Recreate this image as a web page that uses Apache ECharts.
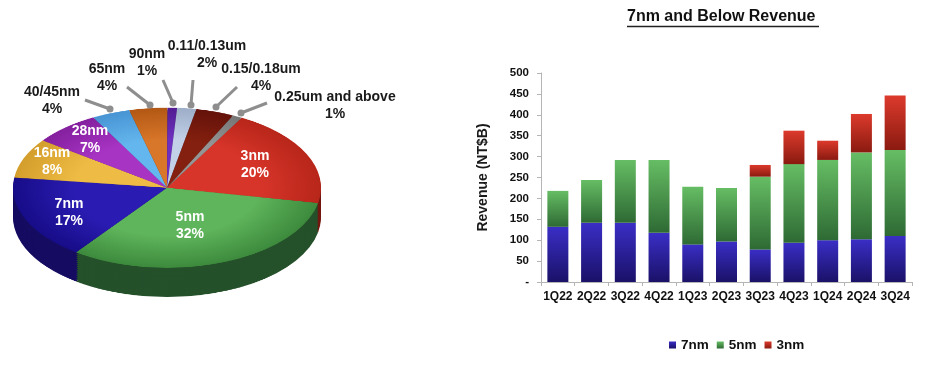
<!DOCTYPE html>
<html>
<head>
<meta charset="utf-8">
<script src="https://cdn.jsdelivr.net/npm/echarts@6/dist/echarts.min.js"></script>
<style>
html,body{margin:0;padding:0;background:#fff;}
#pie{position:absolute;left:0;top:0;width:340px;height:600px;transform:scaleY(0.52);transform-origin:0 0;}
#main{position:absolute;left:0;top:0;width:936px;height:366px;}
</style>
</head>
<body>
<div id="pie"></div>
<div id="main"></div>
<script>
// ---- Pie data (revenue share by technology) ----
const nodes = ['3nm','5nm','7nm','16nm','28nm','40/45nm','65nm','90nm','0.11/0.13um','0.15/0.18um','0.25um and above'];
const shares = [20,32,17,8,7,4,4,1,2,4,1];

// ---- Bar data (NT$B) ----
const quarters = ['1Q22','2Q22','3Q22','4Q22','1Q23','2Q23','3Q23','4Q23','1Q24','2Q24','3Q24'];
const rev7nm = [132,142,142,118,90,97,78,94,100,102,110];
const rev5nm = [86,102,150,174,138,128,174,188,192,208,206];
const rev3nm = [0,0,0,0,0,0,28,80,46,92,130];
const yTickLabels = ['-','50','100','150','200','250','300','350','400','450','500'];

// ---- Styles ----
const FONT = "'Liberation Sans', Arial, sans-serif";
const topIn  = ['#d8352a','#5fb55b','#2a1cb2','#eebc44','#a834c4','#64b6ee','#d8762a','#6e30c0','#c2d0e8','#84200f','#959595'];
const topOut = ['#b8261a','#3d8a3d','#170c88','#d49e2c','#84209e','#4894d4','#b25814','#521c92','#9eaec8','#64120a','#767676'];
const sideCol= ['#741810','#24502a','#150c62','#846418','#541268','#2c6088','#703810','#36125e','#66768c','#440c06','#525252'];

// ---- Pie (drawn in a vertically squashed instance for the tilted look) ----
const pieChart = echarts.init(document.getElementById('pie'), null, {renderer:'canvas'});
const pieSeries = [];
const CX = 167, CY = 361, R = 154, DEPTH = 56;
for (let off = DEPTH; off > 0; off -= 4) {
  pieSeries.push({
    type:'pie', center:[CX, CY + off], radius:R, startAngle:61, clockwise:true,
    silent:true, label:{show:false}, labelLine:{show:false}, emphasis:{disabled:true},
    data: nodes.map((n,i)=>({name:n, value:shares[i], itemStyle:{color:sideCol[i]}}))
  });
}
pieSeries.push({
  type:'pie', center:[CX, CY], radius:R, startAngle:61, clockwise:true,
  silent:true, label:{show:false}, labelLine:{show:false}, emphasis:{disabled:true},
  data: nodes.map((n,i)=>({name:n, value:shares[i], itemStyle:{color:{
    type:'radial', x:CX, y:CY, r:R, global:true,
    colorStops:[{offset:0,color:topIn[i]},{offset:0.6,color:topIn[i]},{offset:1,color:topOut[i]}]
  }}}))
});
pieChart.setOption({animation:false, series:pieSeries});

// ---- Main chart: bars + pie labels ----
const chart = echarts.init(document.getElementById('main'), null, {renderer:'canvas'});
function grad(top, bottom){
  return {type:'linear', x:0, y:0, x2:0, y2:1, colorStops:[{offset:0,color:top},{offset:1,color:bottom}]};
}
const inLabels = [
  ['3nm\n20%', 255, 165],
  ['5nm\n32%', 190, 226],
  ['7nm\n17%', 69, 213],
  ['16nm\n8%', 52, 162],
  ['28nm\n7%', 90, 140]
];
const outLabels = [
  ['40/45nm\n4%', 52, 101],
  ['65nm\n4%', 107, 78],
  ['90nm\n1%', 147, 63],
  ['0.11/0.13um\n2%', 207, 55],
  ['0.15/0.18um\n4%', 261, 78],
  ['0.25um and above\n1%', 335, 106]
];
const leaders = [
  [85,100,110,109],
  [127,87,150,105],
  [163,80,173,103],
  [193,80,191,105],
  [237,87,216,107],
  [267,103,241,113]
];
const graphics = [];
inLabels.forEach(l=>graphics.push({type:'text', x:l[1], y:l[2], silent:true,
  style:{text:l[0], fill:'#ffffff', font:'bold 14px '+FONT, textAlign:'center', textVerticalAlign:'middle', lineHeight:17}}));
outLabels.forEach(l=>graphics.push({type:'text', x:l[1], y:l[2], silent:true,
  style:{text:l[0], fill:'#1a1a1a', font:'bold 14px '+FONT, textAlign:'center', textVerticalAlign:'middle', lineHeight:17}}));
leaders.forEach(p=>{
  graphics.push({type:'line', silent:true, shape:{x1:p[0],y1:p[1],x2:p[2],y2:p[3]}, style:{stroke:'#8e8e8e', lineWidth:3}});
  graphics.push({type:'circle', silent:true, shape:{cx:p[2],cy:p[3],r:3.5}, style:{fill:'#8e8e8e'}});
});
graphics.push({type:'line', silent:true, shape:{x1:627,y1:26.5,x2:819,y2:26.5}, style:{stroke:'#222', lineWidth:1.5}});

chart.setOption({
  animation:false,
  backgroundColor:'transparent',
  title:{text:'7nm and Below Revenue', left:627, top:9, padding:0,
    textStyle:{fontFamily:FONT, fontSize:16, fontWeight:'bold', color:'#111'}},
  legend:{data:['7nm','5nm','3nm'], left:664, top:333, icon:'rect', itemWidth:7, itemHeight:7, itemGap:8,
    textStyle:{fontFamily:FONT, fontSize:13.5, fontWeight:'bold', color:'#111'}},
  grid:{left:541, right:24, top:73, bottom:84},
  xAxis:{type:'category', data:quarters,
    axisLine:{lineStyle:{color:'#b5b5b5'}},
    axisTick:{show:true, length:4, lineStyle:{color:'#b5b5b5'}},
    axisLabel:{interval:0, fontFamily:FONT, fontSize:12, fontWeight:'bold', color:'#111', margin:9}},
  yAxis:{type:'value', min:0, max:500, interval:50,
    name:'Revenue (NT$B)', nameLocation:'middle', nameGap:51,
    nameTextStyle:{fontFamily:FONT, fontSize:14, fontWeight:'bold', color:'#1a1a1a'},
    splitLine:{show:false},
    axisLine:{show:true, lineStyle:{color:'#b5b5b5'}},
    axisTick:{show:true, length:4, lineStyle:{color:'#b5b5b5'}},
    axisLabel:{fontFamily:FONT, fontSize:11.5, fontWeight:'bold', color:'#111', margin:12,
      formatter:(v)=>yTickLabels[Math.round(v/50)]}},
  series:[
    {name:'7nm', type:'bar', stack:'rev', barWidth:21, data:rev7nm, itemStyle:{color:grad('#3a2ec6','#1a1168')}},
    {name:'5nm', type:'bar', stack:'rev', barWidth:21, data:rev5nm, itemStyle:{color:grad('#66bd64','#2e6a34')}},
    {name:'3nm', type:'bar', stack:'rev', barWidth:21, data:rev3nm, itemStyle:{color:grad('#dc3a2c','#8a1a10')}}
  ],
  graphic:graphics
});
</script>
</body>
</html>
